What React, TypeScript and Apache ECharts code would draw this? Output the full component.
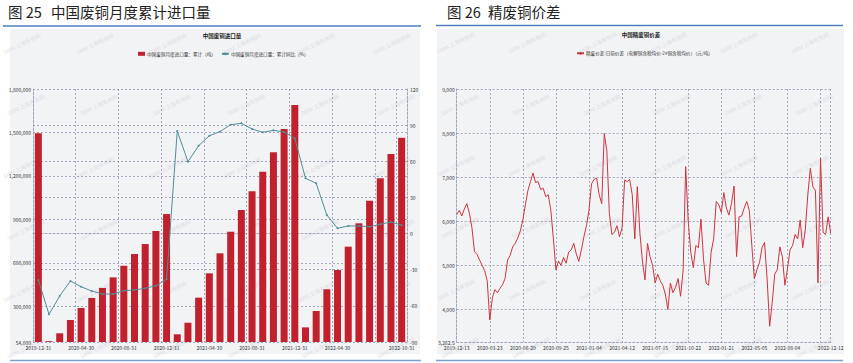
import React, { useEffect, useRef } from "react";
import * as echarts from "echarts";

// ---------- Left chart: 中国废铜月度累计进口量 ----------
const importMonths = [
  "2019-12-31",
  "2020-01-31", "2020-02-29", "2020-03-31", "2020-04-30", "2020-05-31", "2020-06-30",
  "2020-07-31", "2020-08-31", "2020-09-30", "2020-10-31", "2020-11-30", "2020-12-31",
  "2021-01-31", "2021-02-28", "2021-03-31", "2021-04-30", "2021-05-31", "2021-06-30",
  "2021-07-31", "2021-08-31", "2021-09-30", "2021-10-31", "2021-11-30", "2021-12-31",
  "2022-01-31", "2022-02-28", "2022-03-31", "2022-04-30", "2022-05-31", "2022-06-30",
  "2022-07-31", "2022-08-31", "2022-09-30", "2022-10-31",
];

// 累计（吨）
const importCumulative = [
  1494000,
  60000, 114000, 206000, 289000, 358000, 427000, 500000, 580000, 661000, 730000, 820000, 937000,
  107000, 187000, 360000, 528000, 666000, 815000, 965000, 1094000, 1229000, 1363000, 1524000, 1690000,
  155000, 268000, 418000, 551000, 712000, 873000, 1029000, 1184000, 1351000, 1464000,
];

// 累计同比（%）
const importYoY = [
  -38.5,
  -67, -51.8, -39.4, -44.1, -47.7, -50.2, -50.2, -47.4, -46.8, -45.4, -43.3, -38,
  85.1, 59.7, 72.9, 81.2, 84.6, 90.4, 91.5, 86.8, 84, 85.7, 84.3, 79,
  45.9, 41.7, 15.4, 4.4, 6.3, 6.3, 5.7, 7.7, 9.6, 6.9,
];

const barName = "中国废铜月度进口量：累计（吨）";
const lineName = "中国废铜月度进口量：累计同比（%）";

// ---------- Right chart: 精废铜价差 ----------
const spreadAnchorDates = [
  "2019-12-13", "2020-03-23", "2020-06-29", "2020-09-25", "2021-01-04", "2021-04-12",
  "2021-07-15", "2021-10-22", "2022-01-21", "2022-05-05", "2022-08-04", "2022-11-11", "2022-12-12",
];
const spreadAnchorIdx = [0, 13, 26, 39, 52, 65, 78, 91, 104, 117, 130, 143, 147];

// 元/吨
const spreadValues = [
  6150, 6250, 6120, 6280, 6400, 6180, 5850, 5310, 5250, 5120,
  5000, 4880, 4650, 3760, 4260, 4450, 4380, 4480, 4560, 4700,
  5120, 5230, 5420, 5500, 5620, 5780, 6030, 6380, 6700, 6900,
  7095, 6880, 6900, 6720, 6750, 6560, 6600, 6250, 5600, 4895,
  5100, 5000, 5180, 5050, 5300, 5350, 5500, 5260, 5090, 5350,
  5650, 5900, 6250, 6850, 6950, 6980, 6600, 6400, 7990, 7600,
  6180, 5700, 5750, 5900, 5650, 5850, 6935, 6900, 6950, 6600,
  5600, 6785, 5735, 5100, 4670, 5500, 5200, 5000, 4600, 4800,
  4650, 4550, 4350, 4000, 4600, 4380, 4500, 4700, 4300, 4895,
  7240, 6000, 5300, 4950, 5450, 5400, 6050, 5150, 4600, 4550,
  5300, 5600, 6450, 6380, 6200, 6650, 6300, 6140, 6400, 6800,
  5200, 6100, 6120, 6300, 6450, 6250, 5450, 4700, 4900, 5060,
  5400, 5520, 4700, 3620, 4150, 4800, 4900, 5420, 5200, 4550,
  4920, 5350, 5450, 5700, 5600, 6030, 5400, 5800, 6600, 7200,
  6780, 6700, 4600, 7430, 5750, 5700, 6100, 5730,
];

const spreadName = "精废价差:日前价差（电解铜含税均价-2#铜含税均价）（元/吨）";

function buildSpreadDates(): string[] {
  const out: string[] = [];
  for (let a = 0; a < spreadAnchorIdx.length - 1; a++) {
    const i0 = spreadAnchorIdx[a];
    const i1 = spreadAnchorIdx[a + 1];
    const t0 = Date.parse(spreadAnchorDates[a] + "T00:00:00Z");
    const t1 = Date.parse(spreadAnchorDates[a + 1] + "T00:00:00Z");
    for (let i = i0; i < i1; i++) {
      const t = t0 + ((t1 - t0) * (i - i0)) / (i1 - i0);
      const d = new Date(Math.round(t / 86400000) * 86400000);
      out.push(d.toISOString().slice(0, 10));
    }
  }
  out.push(spreadAnchorDates[spreadAnchorDates.length - 1]);
  return out;
}

const FONT = "'Noto Sans CJK SC', 'Noto Sans', sans-serif";
const gridLine = { color: "#a4a7bb", type: [2, 2] as any, width: 1 };
const axisLabelStyle = { fontSize: 5, color: "#333", fontFamily: FONT };

function watermarks(xs: number[], ys: number[]) {
  const arr: any[] = [];
  ys.forEach((y, r) =>
    xs.forEach((x) =>
      arr.push({
        type: "text",
        x: x + (r % 2 ? 4 : 0),
        y,
        rotation: 0.45,
        z: -5,
        silent: true,
        style: { text: "SMM 上海有色网", fontSize: 5.5, fill: "#dfe0e5", fontFamily: FONT, align: "center", verticalAlign: "middle" },
      })
    )
  );
  return arr;
}

function buildOption(): any {
  const spreadDates = buildSpreadDates();
  const lastSpread = spreadDates.length - 1;
  const lastImport = importMonths.length - 1;

  return {
    animation: false,
    backgroundColor: "#ffffff",
    graphic: [
      // panels
      { type: "rect", z: -10, silent: true, shape: { x: 10, y: 29, width: 410, height: 325 }, style: { fill: "#f2f3f5" } },
      { type: "rect", z: -10, silent: true, shape: { x: 437, y: 29, width: 407, height: 325 }, style: { fill: "#f2f3f5" } },
      // blue rules
      { type: "line", z: -9, shape: { x1: 3, y1: 26, x2: 421, y2: 26 }, style: { stroke: "#4f7fba", lineWidth: 1.5 } },
      { type: "line", z: -9, shape: { x1: 436, y1: 25.5, x2: 843, y2: 25.5 }, style: { stroke: "#4f7fba", lineWidth: 1.5 } },
      { type: "line", z: -9, shape: { x1: 10, y1: 360.5, x2: 421, y2: 360.5 }, style: { stroke: "#7a9fd0", lineWidth: 1.5 } },
      { type: "line", z: -9, shape: { x1: 436, y1: 360.5, x2: 843, y2: 360.5 }, style: { stroke: "#7a9fd0", lineWidth: 1.5 } },
      // figure titles
      { type: "text", x: 8, y: 11, style: { text: "图 25", fontSize: 14.5, fill: "#222", fontFamily: FONT, verticalAlign: "middle" } },
      { type: "text", x: 51, y: 11, style: { text: "中国废铜月度累计进口量", fontSize: 14.5, fill: "#222", fontFamily: FONT, verticalAlign: "middle" } },
      { type: "text", x: 447, y: 11, style: { text: "图 26", fontSize: 14.5, fill: "#222", fontFamily: FONT, verticalAlign: "middle" } },
      { type: "text", x: 488, y: 11, style: { text: "精废铜价差", fontSize: 14.5, fill: "#222", fontFamily: FONT, verticalAlign: "middle" } },
      // chart titles
      { type: "text", x: 222, y: 36, style: { text: "中国废铜进口量", fontSize: 5.5, fontWeight: "bold", fill: "#222", fontFamily: FONT, align: "center", verticalAlign: "middle" } },
      { type: "text", x: 641, y: 35, style: { text: "中国精废铜价差", fontSize: 5.5, fontWeight: "bold", fill: "#222", fontFamily: FONT, align: "center", verticalAlign: "middle" } },
      ...watermarks([22, 95, 168, 242, 316, 392], [44, 105, 168, 230, 292, 348]),
      ...watermarks([456, 527, 598, 668, 739, 810], [43, 105, 166, 228, 290, 348]),
    ],
    legend: [
      {
        left: 133,
        top: 46.5,
        itemWidth: 7,
        itemHeight: 4,
        itemGap: 5,
        textStyle: { fontSize: 4.6, color: "#333", fontFamily: FONT, padding: [0, 0, 0, -3] },
        data: [{ name: barName, icon: "rect" }, { name: lineName }],
      },
      {
        left: 571,
        top: 46,
        itemWidth: 7,
        itemHeight: 4,
        textStyle: { fontSize: 4.6, color: "#333", fontFamily: FONT, padding: [0, 0, 0, -3] },
        data: [{ name: spreadName }],
      },
    ],
    grid: [
      { left: 33, right: 446, top: 89, bottom: 21 },
      { left: 456.7, right: 22.3, top: 89, bottom: 21 },
    ],
    xAxis: [
      {
        type: "category",
        gridIndex: 0,
        data: importMonths,
        axisTick: { show: false },
        axisLine: { show: true, lineStyle: gridLine },
        axisLabel: {
          ...axisLabelStyle,
          margin: 3,
          interval: (i: number) => (i % 4 === 0 && i <= 28) || i === lastImport,
        },
        splitLine: { show: true, interval: (i: number) => i % 4 === 0 || i === lastImport, lineStyle: gridLine },
      },
      {
        type: "category",
        gridIndex: 1,
        data: spreadDates,
        boundaryGap: false,
        axisTick: { show: false },
        axisLine: { show: true, lineStyle: gridLine },
        axisLabel: {
          ...axisLabelStyle,
          margin: 3,
          interval: (i: number) => (i % 13 === 0 && i < 143) || i === lastSpread,
        },
        splitLine: { show: true, interval: (i: number) => i % 13 === 0 || i === lastSpread, lineStyle: gridLine },
      },
    ],
    yAxis: [
      {
        type: "value",
        gridIndex: 0,
        position: "left",
        min: 54000,
        max: 1800000,
        splitNumber: 6,
        axisTick: { show: false },
        axisLine: { show: true, lineStyle: gridLine },
        axisLabel: { ...axisLabelStyle, margin: 2, formatter: (v: number) => v.toLocaleString("en-US") },
        splitLine: { show: true, lineStyle: gridLine },
      },
      {
        type: "value",
        gridIndex: 0,
        position: "right",
        min: -90,
        max: 120,
        interval: 30,
        axisTick: { show: false },
        axisLine: { show: true, lineStyle: gridLine },
        axisLabel: { ...axisLabelStyle, margin: 3 },
        splitLine: { show: true, lineStyle: gridLine },
      },
      {
        type: "value",
        gridIndex: 1,
        position: "left",
        min: 3262.5,
        max: 9000,
        splitNumber: 6,
        axisTick: { show: false },
        axisLine: { show: true, lineStyle: gridLine },
        axisLabel: { ...axisLabelStyle, margin: 2, formatter: (v: number) => v.toLocaleString("en-US") },
        splitLine: { show: true, lineStyle: gridLine },
      },
    ],
    series: [
      {
        type: "bar",
        name: barName,
        xAxisIndex: 0,
        yAxisIndex: 0,
        data: importCumulative,
        barWidth: 7,
        itemStyle: { color: "#c1202d" },
      },
      {
        type: "line",
        name: lineName,
        xAxisIndex: 0,
        yAxisIndex: 1,
        data: importYoY,
        symbol: "diamond",
        symbolSize: 2.5,
        lineStyle: { width: 1, color: "#4f8e96" },
        itemStyle: { color: "#4f8e96" },
      },
      {
        type: "line",
        name: spreadName,
        xAxisIndex: 1,
        yAxisIndex: 2,
        data: spreadValues,
        symbol: "diamond",
        symbolSize: 4,
        showSymbol: false,
        lineStyle: { width: 1, color: "#cc3540" },
        itemStyle: { color: "#cc3540" },
      },
    ],
  };
}

export default function App() {
  const ref = useRef<HTMLDivElement>(null);
  useEffect(() => {
    if (!ref.current) return;
    const chart = echarts.init(ref.current, undefined, { renderer: "svg" });
    chart.setOption(buildOption());
    return () => chart.dispose();
  }, []);
  return <div ref={ref} style={{ position: "fixed", left: 0, top: 0, width: 853, height: 363 }} />;
}
